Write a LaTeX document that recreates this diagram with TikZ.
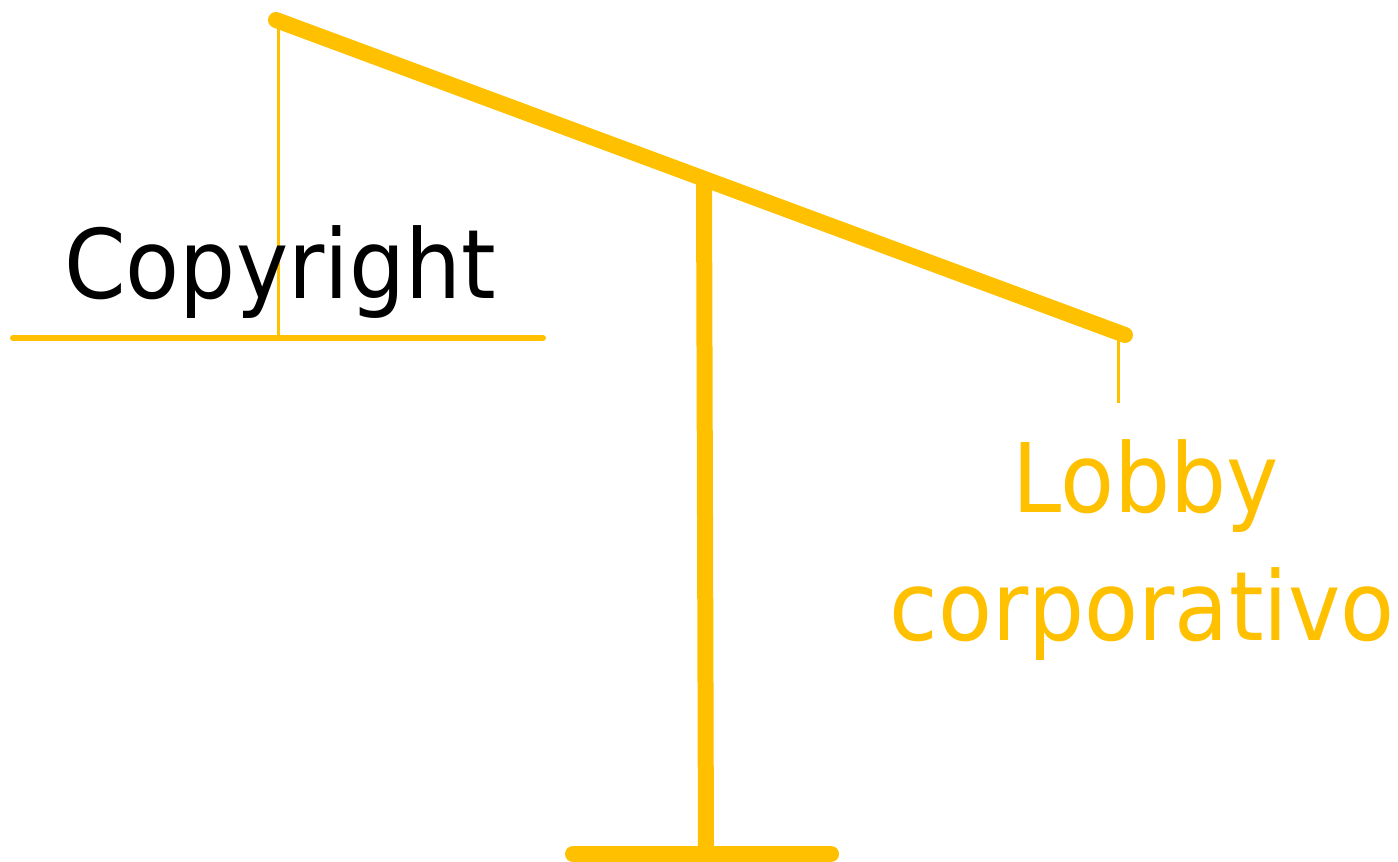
\documentclass[tikz,border=0pt]{standalone}
\usepackage{fontspec}
\setmainfont[FakeStretch=0.92]{DejaVu Sans}
\definecolor{gold}{HTML}{FFC000}
\tikzset{
  px/.style={x=1pt,y=-1pt},
  beam/.style={draw=gold,line width=16pt,line cap=round},
  post/.style={draw=gold,line width=16pt},
  base/.style={draw=gold,line width=16pt,line cap=round},
  hanger/.style={draw=gold,line width=3pt},
  pan/.style={draw=gold,line width=6pt,line cap=round},
  lbl/.style={font=\fontsize{96}{120}\selectfont,align=center,inner sep=0pt}
}
\begin{document}
\begin{tikzpicture}[px]
\useasboundingbox (0,0) rectangle (1398,862);
\coordinate (bl) at (276,20);
\coordinate (br) at (1125,335);
\coordinate (pt) at (704,181);
\coordinate (pb) at (706,853);
\coordinate (bbl) at (573,854);
\coordinate (bbr) at (831,854);
\coordinate (hl) at (278,25);
\coordinate (hlb) at (278,338);
\coordinate (pl) at (13,338);
\coordinate (pr) at (543,338);
\coordinate (hr) at (1118,338);
\coordinate (hre) at (1118,403);
\draw[beam] (bl) -- (br);
\draw[post] (pt) -- (pb);
\draw[base] (bbl) -- (bbr);
\draw[hanger] (hl) -- (hlb);
\draw[pan] (pl) -- (pr);
\draw[hanger] (hr) -- (hre);
\node[lbl,anchor=base] (copy) at (280,298) {Copyright};
\node[lbl,anchor=base,text=gold] (lobby) at (1146,512) {Lobby};
\node[lbl,anchor=base,text=gold] (corp) at (1142,640) {corporativo};
\end{tikzpicture}
\end{document}
